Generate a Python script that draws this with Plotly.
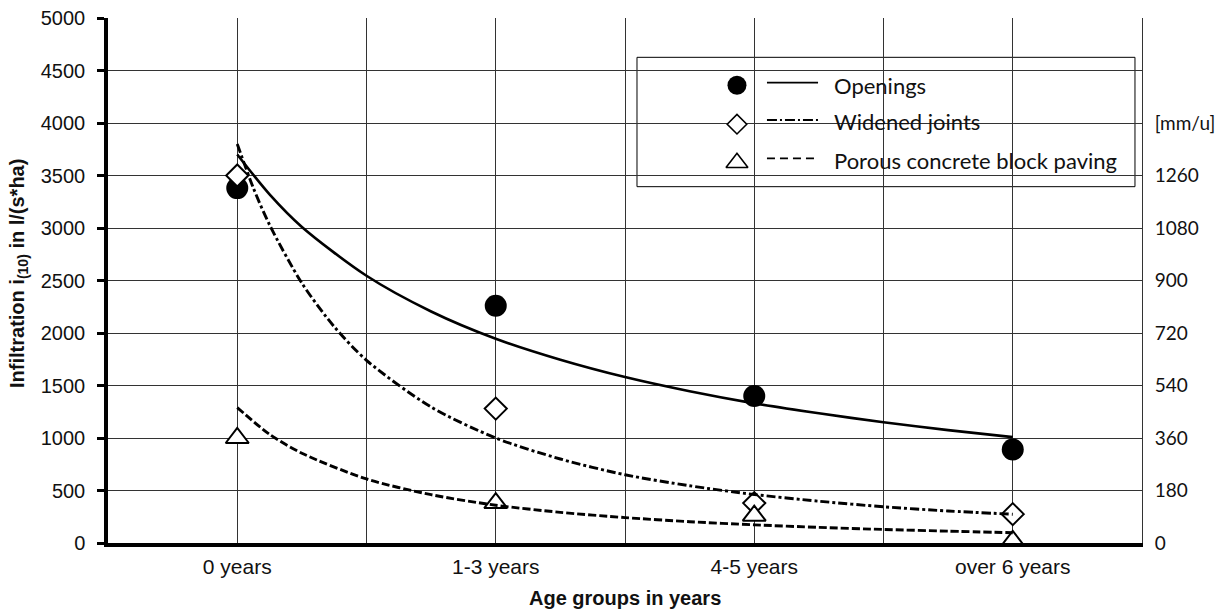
import plotly.graph_objects as go

# Age groups on the x axis (positions 1..4)
categories = ["0 years", "1-3 years", "4-5 years", "over 6 years"]
cat_pos = [1, 2, 3, 4]

# Measured infiltration rates i(10) in l/(s*ha)
openings = [3380, 2260, 1400, 890]
widened_joints = [3500, 1280, 380, 275]
porous_paving = [1000, 380, 260, 20]

# Fitted trend curves, sampled along the age axis
trend_x_open = [1, 1.125, 1.25, 1.5, 1.75, 2, 2.25, 2.5, 2.75, 3, 3.25, 3.5, 3.75, 4]
trend_open = [3700, 3320, 3010, 2545, 2205, 1945, 1745, 1580, 1445, 1330, 1235, 1150, 1075, 1008]
trend_x_wid = [1, 1.0625, 1.125, 1.25, 1.375, 1.5, 1.75, 2, 2.25, 2.5, 2.75, 3, 3.25, 3.5, 3.75, 4]
trend_wid = [3800, 3380, 3030, 2475, 2060, 1740, 1295, 1000, 800, 650, 545, 462, 398, 345, 305, 274]
trend_x_por = [1, 1.125, 1.25, 1.5, 1.75, 2, 2.25, 2.5, 2.75, 3, 3.25, 3.5, 3.75, 4]
trend_por = [1290, 1035, 855, 610, 460, 360, 292, 242, 203, 173, 149, 129, 113, 98]

# Left and right axis ticks
left_ticks = [0, 500, 1000, 1500, 2000, 2500, 3000, 3500, 4000, 4500, 5000]
right_tickvals = [0, 500, 1000, 1500, 2000, 2500, 3000, 3500, 4000]
right_ticktext = ["0", "180", "360", "540", "720", "900", "1080", "1260", "[mm/u]"]

legend_names = ["Openings", "Widened joints", "Porous concrete block paving"]

BLACK = "#000000"
GRID = "#333333"
ARIAL = "Liberation Sans, Arial, sans-serif"
SOFT = "Lato, Open Sans, sans-serif"

fig = go.Figure()

# measured points
fig.add_trace(go.Scatter(
    x=cat_pos, y=openings, mode="markers", showlegend=False, hoverinfo="skip",
    marker=dict(symbol="circle", size=22, color=BLACK, line=dict(width=0)),
))
fig.add_trace(go.Scatter(
    x=cat_pos, y=widened_joints, mode="markers", showlegend=False, hoverinfo="skip",
    marker=dict(symbol="diamond", size=17, color="white", line=dict(width=2, color=BLACK)),
))
fig.add_trace(go.Scatter(
    x=cat_pos, y=porous_paving, mode="markers", showlegend=False, hoverinfo="skip",
    marker=dict(symbol="triangle-up", size=20, color="white", line=dict(width=2, color=BLACK)),
))

# trend curves
fig.add_trace(go.Scatter(
    x=trend_x_open, y=trend_open, mode="lines", showlegend=False, hoverinfo="skip",
    line=dict(color=BLACK, width=2.6, shape="spline", smoothing=0.8),
))
fig.add_trace(go.Scatter(
    x=trend_x_wid, y=trend_wid, mode="lines", showlegend=False, hoverinfo="skip",
    line=dict(color=BLACK, width=2.9, shape="spline", smoothing=0.8, dash="9px,3px,3px,3px"),
))
fig.add_trace(go.Scatter(
    x=trend_x_por, y=trend_por, mode="lines", showlegend=False, hoverinfo="skip",
    line=dict(color=BLACK, width=2.9, shape="spline", smoothing=0.8, dash="8px,3px"),
))

# right-hand axis carrier
fig.add_trace(go.Scatter(
    x=[cat_pos[0]], y=[0], yaxis="y2", mode="markers", showlegend=False,
    hoverinfo="skip", marker=dict(opacity=0),
))

# legend symbols on an overlay axis spanning the plot area
leg_x = 0.6083
leg_y = [0.8718, 0.7977, 0.7242]
fig.add_trace(go.Scatter(
    x=[leg_x], y=[leg_y[0]], xaxis="x2", yaxis="y3", mode="markers",
    showlegend=False, hoverinfo="skip",
    marker=dict(symbol="circle", size=19, color=BLACK, line=dict(width=0)),
))
fig.add_trace(go.Scatter(
    x=[leg_x], y=[leg_y[1]], xaxis="x2", yaxis="y3", mode="markers",
    showlegend=False, hoverinfo="skip",
    marker=dict(symbol="diamond", size=15, color="white", line=dict(width=1.6, color=BLACK)),
))
fig.add_trace(go.Scatter(
    x=[leg_x], y=[leg_y[2]], xaxis="x2", yaxis="y3", mode="markers",
    showlegend=False, hoverinfo="skip",
    marker=dict(symbol="triangle-up", size=19, color="white", line=dict(width=1.6, color=BLACK)),
))

shapes = [
    # legend frame
    dict(type="rect", xref="paper", yref="paper", x0=0.5116, x1=0.9932, y0=0.6787, y1=0.9251,
         line=dict(color=BLACK, width=1), fillcolor="white", layer="between"),
]
line_y = [0.8768, 0.8057, 0.7328]
dashes = ["solid", "10px,3px,2px,3px", "8px,5px"]
for yy, dd in zip(line_y, dashes):
    shapes.append(dict(type="line", xref="paper", yref="paper", x0=0.6373, x1=0.6867,
                       y0=yy, y1=yy, line=dict(color=BLACK, width=1.8, dash=dd), layer="above"))

annotations = []
text_y = [0.8705, 0.8025, 0.7295]
for name, yy in zip(legend_names, text_y):
    annotations.append(dict(
        text=name, xref="paper", yref="paper", x=0.7002, y=yy, xanchor="left", yanchor="middle",
        showarrow=False, font=dict(family=SOFT, size=22, color="#111111"),
    ))
annotations.append(dict(
    text="<b>Age groups in years</b>", xref="paper", yref="paper", x=0.5, y=-0.1048,
    xanchor="center", yanchor="middle", showarrow=False,
    font=dict(family=ARIAL, size=20, color="#111111"),
))
annotations.append(dict(
    text="<b>Infiltration i<sub>(10)</sub> in l/(s*ha)</b>", xref="paper", yref="paper",
    x=-0.0861, y=0.5143, xanchor="center", yanchor="middle", textangle=-90, showarrow=False,
    font=dict(family=ARIAL, size=20, color="#111111"),
))

fig.update_layout(
    width=1226, height=611,
    margin=dict(l=108, r=84, t=18, b=68, autoexpand=False),
    paper_bgcolor="white", plot_bgcolor="white",
    showlegend=False,
    shapes=shapes,
    annotations=annotations,
    xaxis=dict(
        range=[0.5, 4.5], tickvals=cat_pos, ticktext=categories,
        showgrid=True, gridcolor=GRID, gridwidth=1,
        minor=dict(tickvals=[1.5, 2.5, 3.5], showgrid=True, gridcolor=GRID, gridwidth=1, ticks=""),
        showline=True, linecolor=BLACK, linewidth=4,
        ticks="outside", ticklen=2, tickcolor="rgba(0,0,0,0)",
        tickfont=dict(family=ARIAL, size=21, color="#111111"),
        zeroline=False, fixedrange=True, automargin=False,
    ),
    yaxis=dict(
        range=[0, 5000], tickvals=left_ticks,
        showgrid=True, gridcolor=GRID, gridwidth=1,
        showline=True, linecolor=BLACK, linewidth=3.5,
        ticks="outside", ticklen=7, tickwidth=3, tickcolor=BLACK,
        ticklabelstandoff=8,
        tickfont=dict(family=ARIAL, size=20, color="#111111"),
        zeroline=False, fixedrange=True, automargin=False,
    ),
    yaxis2=dict(
        range=[0, 5000], overlaying="y", side="right", anchor="x",
        tickvals=right_tickvals, ticktext=right_ticktext,
        showgrid=False, showline=True, linecolor=GRID, linewidth=1,
        ticks="", ticklabelstandoff=8,
        tickfont=dict(family=SOFT, size=19, color="#111111"),
        zeroline=False, fixedrange=True, automargin=False,
    ),
    xaxis2=dict(range=[0, 1], domain=[0, 1], overlaying="x", anchor="y3", visible=False,
                fixedrange=True, automargin=False),
    yaxis3=dict(range=[0, 1], domain=[0, 1], overlaying="y", anchor="x2", visible=False,
                fixedrange=True, automargin=False),
)

fig.write_html("out.html")
